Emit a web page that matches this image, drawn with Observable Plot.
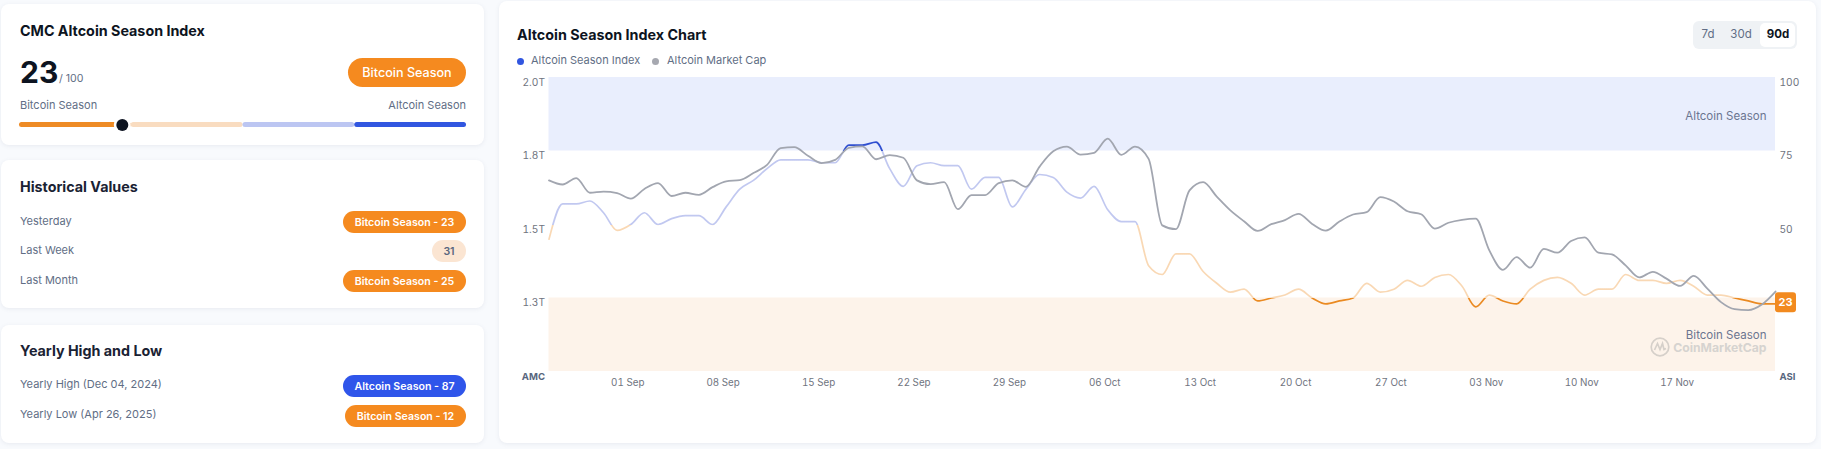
<!DOCTYPE html>
<html>
<head>
<meta charset="utf-8">
<script src="https://cdn.jsdelivr.net/npm/d3@7"></script>
<script src="https://cdn.jsdelivr.net/npm/@observablehq/plot@0.6"></script>
<style>
  html, body { margin: 0; padding: 0; background: #f8fafd; }
  #page { position: relative; width: 1821px; height: 449px; overflow: hidden; font-family: Inter, "Noto Sans", sans-serif; }
  .card { position: absolute; background: #fff; border-radius: 8px; box-shadow: 0 1px 4px rgba(88,102,126,0.10); }
  .t { position: absolute; white-space: nowrap; line-height: 1; }
  .h { font-size: 14.3px; font-weight: 700; color: #0d1421; }
  .l { font-size: 11px; color: #616e85; }
  .pill { position: absolute; border-radius: 11px; color: #fff; font-size: 10.6px; font-weight: 600; display: flex; align-items: center; justify-content: center; }
  .plot { position: absolute; overflow: visible; }
</style>
</head>
<body>
<div id="page"></div>
<script>
// ---- data ----
const startDay = new Date(Date.UTC(2025, 7, 26));
const seasonIndex = [45,57,57,58,54,48,50,54,50,52,53,53,50,56,62,65,69,72,72,72,71,71,77,77,78,69,63,70,71,70,70,62,66,66,56,62,67,66,61,59,63,55,51,51,36,33,40,40,34,30,27,28,24,25,26,28,25,23,24,25,30,27,28,31,29,32,33,29,22,26,24,23,28,31,32,30,26,28,28,33,31,31,30,31,29,26,26,25,24,23,23];
const marketCapT = [1.650,1.636,1.658,1.608,1.612,1.607,1.588,1.621,1.641,1.597,1.608,1.601,1.627,1.647,1.651,1.675,1.703,1.760,1.763,1.734,1.709,1.720,1.761,1.766,1.722,1.736,1.727,1.650,1.637,1.644,1.552,1.600,1.600,1.641,1.650,1.628,1.697,1.749,1.765,1.738,1.744,1.792,1.737,1.765,1.723,1.497,1.484,1.616,1.644,1.595,1.548,1.511,1.478,1.501,1.515,1.536,1.502,1.479,1.510,1.534,1.542,1.593,1.578,1.545,1.535,1.486,1.506,1.516,1.520,1.412,1.346,1.389,1.353,1.417,1.404,1.444,1.456,1.404,1.398,1.361,1.320,1.339,1.316,1.291,1.325,1.282,1.236,1.212,1.209,1.228,1.272];
const xTickDates = ["2025-09-01","2025-09-08","2025-09-15","2025-09-22","2025-09-29","2025-10-06","2025-10-13","2025-10-20","2025-10-27","2025-11-03","2025-11-10","2025-11-17"];
const leftTickValues = [100, 75, 50, 25];
const leftTickLabels = ["2.0T", "1.8T", "1.5T", "1.3T"];
const rightTickValues = [100, 75, 50];
const seasonBands = [
  { y1: 75, y2: 100, fill: "#e9eefd" },
  { y1: 0, y2: 25, fill: "#fdf3ea" }
];
const gaugeSegments = [
  { x1: 0, x2: 25, fill: "#ee8b25" },
  { x1: 25, x2: 50, fill: "#f9dcc0" },
  { x1: 50, x2: 75, fill: "#bcc6f2" },
  { x1: 75, x2: 100, fill: "#3156e0" }
];
const currentValue = 23;
const historyRows = [
  ["Yesterday", "Bitcoin Season - 23", "#f58a1f", 343, 211],
  ["Last Week", "31", "#fbe5d2", 432, 240],
  ["Last Month", "Bitcoin Season - 25", "#f58a1f", 343, 270]
];
const yearlyRows = [
  ["Yearly High", " (Dec 04, 2024)", "Altcoin Season - 87", "#2f55ea", 343, 375],
  ["Yearly Low", " (Apr 26, 2025)", "Bitcoin Season - 12", "#f58a1f", 345, 405]
];
const rangeButtons = ["7d", "30d", "90d"];

// ---- page helpers ----
const page = document.getElementById("page");
function box(cls, css, html) {
  const e = document.createElement("div");
  e.className = cls;
  e.style.cssText = css;
  if (html !== undefined) e.innerHTML = html;
  page.appendChild(e);
  return e;
}
function mount(svg, left, top) {
  svg.classList.add("plot");
  svg.style.left = left + "px";
  svg.style.top = top + "px";
  svg.style.background = "transparent";
  page.appendChild(svg);
}

// ---- left cards ----
box("card", "left:1px;top:4px;width:483px;height:141px");
box("card", "left:1px;top:160px;width:483px;height:148px");
box("card", "left:1px;top:325px;width:483px;height:118px");
box("card", "left:499px;top:1px;width:1317px;height:442px");

box("t h", "left:20px;top:24px;", "CMC Altcoin Season Index");
box("t", "left:20px;top:57px;font-size:30px;font-weight:700;color:#0d1421;", String(currentValue));
box("t", "left:59px;top:74px;font-size:10.6px;color:#616e85;", "/ 100");
box("pill", "left:348px;top:58px;width:118px;height:29px;border-radius:15px;background:#f58a1f;font-size:12.6px;font-weight:500;", "Bitcoin Season");
box("t l", "left:20px;top:100px;", "Bitcoin Season");
box("t l", "right:1355px;top:100px;", "Altcoin Season");

const gauge = Plot.plot({
  width: 467, height: 21, marginLeft: 10, marginRight: 10, marginTop: 8, marginBottom: 8,
  x: { domain: [0, 100], axis: null },
  marks: [
    Plot.barX(gaugeSegments, { x1: "x1", x2: "x2", fill: "fill", rx: 2.5 }),
    Plot.dot([currentValue], { x: d => d, r: 8.5, fill: "#fff" }),
    Plot.dot([currentValue], { x: d => d, r: 6, fill: "#0d1421" })
  ]
});
mount(gauge, 9, 114);

box("t h", "left:20px;top:180px;color:#1a2233;", "Historical Values");
historyRows.forEach(([label, text, color, x, y]) => {
  box("t l", `left:20px;top:${y + 5}px;`, label);
  box("pill", `left:${x}px;top:${y}px;width:${466 - x}px;height:22px;background:${color};` +
    (text.length < 4 ? "color:#58667e;" : ""), text);
});

box("t h", "left:20px;top:344px;color:#1a2233;", "Yearly High and Low");
yearlyRows.forEach(([a, b, text, color, x, y]) => {
  box("t l", `left:20px;top:${y + 4}px;`, a + b);
  box("pill", `left:${x}px;top:${y}px;width:${466 - x}px;height:22px;background:${color};`, text);
});

// ---- chart header ----
box("t h", "left:517px;top:28px;", "Altcoin Season Index Chart");
box("", "position:absolute;left:517px;top:57.5px;width:7px;height:7px;border-radius:50%;background:#3156e0;");
box("t l", "left:531px;top:55px;", "Altcoin Season Index");
box("", "position:absolute;left:652px;top:57.5px;width:7px;height:7px;border-radius:50%;background:#a6a8b0;");
box("t l", "left:667px;top:55px;", "Altcoin Market Cap");
box("", "position:absolute;left:1693px;top:21px;width:104px;height:28px;border-radius:6px;background:#eff2f5;");
box("", "position:absolute;left:1760px;top:23px;width:35px;height:24px;border-radius:5px;background:#fff;");
[1708, 1741, 1778].forEach((cx, i) => {
  box("t", `left:${cx - 20}px;width:40px;text-align:center;top:29px;font-size:11.5px;` +
    (i === 2 ? "font-weight:700;color:#0d1421;" : "color:#616e85;"), rangeButtons[i]);
});

// ---- main chart ----
const days = seasonIndex.map((_, i) => d3.utcDay.offset(startDay, i));
const asiRows = seasonIndex.map((v, i) => ({ date: days[i], v }));
const amcRows = marketCapT.map((t, i) => ({ date: days[i], t }));

const seasonGradient = (index, scales, values, dimensions, context) => {
  const defs = d3.select(context.document.createElementNS("http://www.w3.org/2000/svg", "defs"));
  const g = defs.append("linearGradient")
    .attr("id", "asiStroke")
    .attr("gradientUnits", "userSpaceOnUse")
    .attr("x1", 0).attr("x2", 0)
    .attr("y1", scales.y(100)).attr("y2", scales.y(0));
  const stops = [[0, "#2f4fd0"], [0.25, "#2f4fd0"], [0.25, "#c1c8f0"], [0.5, "#c1c8f0"],
                 [0.5, "#f9d8b4"], [0.75, "#f9d8b4"], [0.75, "#ea8a22"], [1, "#ea8a22"]];
  stops.forEach(([o, c]) => g.append("stop").attr("offset", o).attr("stop-color", c));
  return defs.node();
};

const currentBadge = (index, scales, values, dimensions, context) => {
  const ns = "http://www.w3.org/2000/svg";
  const g = d3.select(context.document.createElementNS(ns, "g"));
  const cy = scales.y(currentValue + 0.4);
  const x0 = scales.x(days[days.length - 1]);
  g.append("rect").attr("x", x0).attr("y", cy - 10).attr("width", 21).attr("height", 20)
    .attr("rx", 3).attr("fill", "#f28a1f");
  g.append("text").attr("x", x0 + 10.5).attr("y", cy + 4).attr("text-anchor", "middle")
    .attr("fill", "#fff").attr("font-size", 11).attr("font-weight", 700).text(currentValue);
  return g.node();
};

const lastDay = days[days.length - 1];
const chart = Plot.plot({
  width: 1316, height: 335, marginLeft: 48.5, marginRight: 41, marginTop: 17, marginBottom: 24,
  style: { fontFamily: "Inter, sans-serif", fontSize: "11px" },
  x: { type: "utc", domain: [startDay, lastDay], axis: null },
  y: { domain: [0, 100], axis: null },
  marks: [
    seasonGradient,
    Plot.rectY(seasonBands, { x1: startDay, x2: lastDay, y1: "y1", y2: "y2", fill: "fill" }),
    Plot.lineY(asiRows, { x: "date", y: "v", stroke: "url(#asiStroke)", strokeWidth: 1.7, curve: "monotone-x" }),
    Plot.lineY(amcRows, { x: "date", y: d => (d.t - 1) * 100, stroke: "#a2a6b0", strokeWidth: 1.8, curve: "monotone-x" }),
    Plot.axisX({ ticks: xTickDates.map(d => new Date(d)), tickFormat: d3.utcFormat("%d %b"), tickSize: 0, tickPadding: 8, dx: -3, fill: "#6f7480", label: null, fontSize: 9.8 }),
    Plot.axisY({ anchor: "left", ticks: leftTickValues, tickFormat: v => leftTickLabels[leftTickValues.indexOf(v)], tickSize: 0, tickPadding: 4, dy: 5, fill: "#6f7480", label: null, fontSize: 10.2 }),
    Plot.axisY({ anchor: "right", ticks: rightTickValues, tickSize: 0, tickPadding: 4, dy: 5, fill: "#6f7480", label: null, fontSize: 10.2 }),
    Plot.axisY({ anchor: "left", ticks: [0], tickFormat: () => "AMC", tickSize: 0, tickPadding: 4, dy: 5, fill: "#58667e", fontWeight: 700, label: null, fontSize: 9.6 }),
    Plot.axisY({ anchor: "right", ticks: [0], tickFormat: () => "ASI", tickSize: 0, tickPadding: 4, dy: 5, fill: "#58667e", fontWeight: 700, label: null, fontSize: 9.6 }),
    Plot.text(["Altcoin Season"], { x: lastDay, y: 86.7, dx: -9, textAnchor: "end", fill: "#6b7590", fontSize: 11.5 }),
    Plot.text(["Bitcoin Season"], { x: lastDay, y: 12.2, dx: -9, textAnchor: "end", fill: "#6b7590", fontSize: 11.5 }),
    Plot.text(["CoinMarketCap"], { x: lastDay, y: 8, dx: -9, textAnchor: "end", fill: "#d6d3d0", fontSize: 12.2, fontWeight: 700 }),
    currentBadge
  ]
});
mount(chart, 500, 60);

// CoinMarketCap logo watermark
box("", "position:absolute;left:1650px;top:337px;width:20px;height:20px;",
  '<svg width="20" height="20" viewBox="0 0 20 20" fill="none" stroke="#d6d0ca" stroke-width="1.7"><circle cx="10" cy="10" r="8.8"/><path d="M4.5 13 L7.5 6.5 L10 12.5 L12.5 6.5 L14 12.5 L16 11.5"/></svg>');
</script>
</body>
</html>
